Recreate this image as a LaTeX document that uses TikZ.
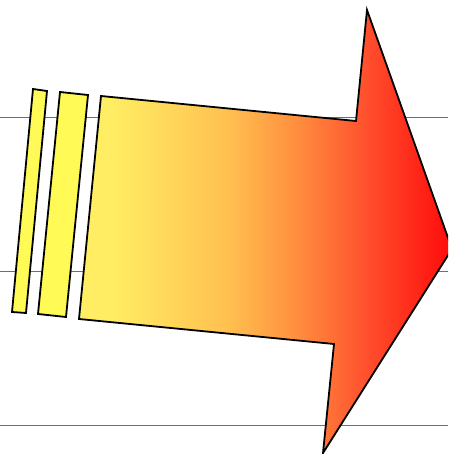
\documentclass[tikz,border=0pt]{standalone}
\usetikzlibrary{shadings}
\definecolor{stripyellow}{RGB}{255,250,85}
\definecolor{gy}{RGB}{255,238,100}
\definecolor{go1}{RGB}{255,192,80}
\definecolor{go2}{RGB}{255,140,62}
\definecolor{go3}{RGB}{255,80,45}
\definecolor{gr}{RGB}{255,10,10}
\definecolor{rule}{RGB}{110,110,110}
\pgfdeclarehorizontalshading{arrowshade}{100bp}{color(0bp)=(gy); color(29bp)=(gy); color(45bp)=(go1); color(54.5bp)=(go2); color(63.5bp)=(go3); color(75bp)=(gr); color(100bp)=(gr)}
\tikzset{
  outline/.style={draw=black, line width=1.8pt, line join=miter},
  strip/.style={outline, fill=stripyellow},
  rulers/.style={draw=rule, line width=0.8pt}
}
\begin{document}
\begin{tikzpicture}[x=1pt,y=-1pt]
\useasboundingbox (0,0) rectangle (448,454);
\clip (0,0) rectangle (448,454);
% horizontal rules
\draw[rulers] (0,117) -- (448,117);
\draw[rulers] (0,271) -- (448,271);
\draw[rulers] (0,425) -- (448,425);
% strips
\draw[strip] (33,89) -- (47,91) -- (26,313) -- (12,312) -- cycle;
\draw[strip] (60,92) -- (88,95) -- (66,317) -- (38,314) -- cycle;
% arrow
\draw[outline, shading=arrowshade] (101,96) -- (356,121) -- (367,10) -- (452,249) -- (323,453) -- (334,344) -- (79,319) -- cycle;
\end{tikzpicture}
\end{document}
